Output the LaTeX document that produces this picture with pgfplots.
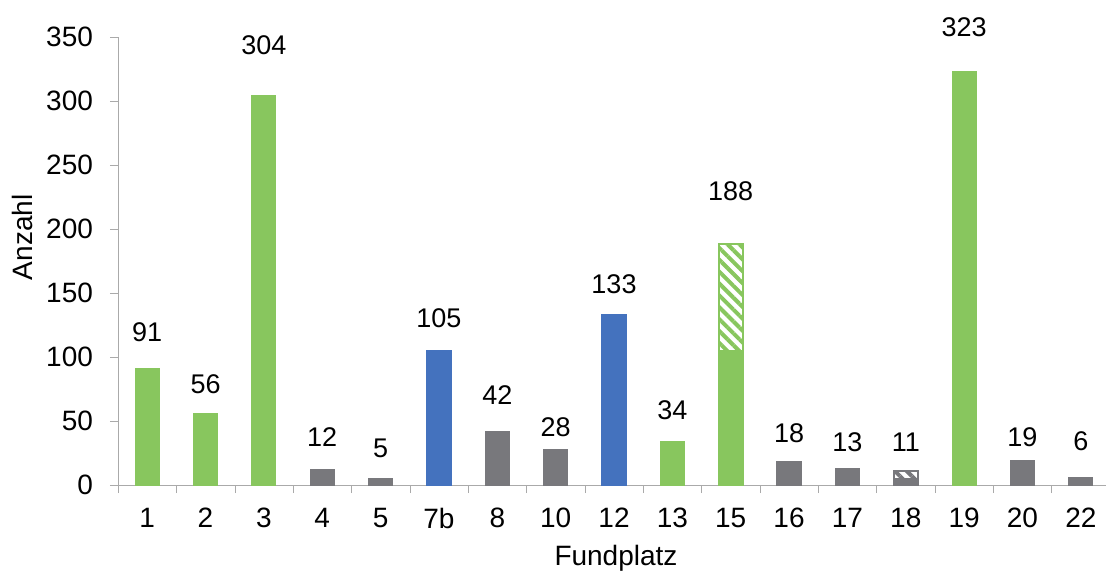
\documentclass[border=0pt]{standalone}
\usepackage{pgfplots}
\pgfplotsset{compat=1.18}
\usepackage{pgfplotstable}
\usetikzlibrary{patterns.meta}
\usepackage{fontspec}
\setmainfont{Liberation Sans}

\definecolor{fgreen}{RGB}{136,198,94}
\definecolor{fblue}{RGB}{68,114,190}
\definecolor{fgray}{RGB}{120,120,124}
\definecolor{axgray}{RGB}{170,170,170}

% Fundplatz index (0..16), count
\pgfplotstableread{
x y
0 91
1 56
2 304
9 34
10 105
14 323
}\greensolid
\pgfplotstableread{
x y
5 105
8 133
}\bluesolid
\pgfplotstableread{
x y
3 12
4 5
6 42
7 28
11 18
12 13
13 5
15 19
16 6
}\graysolid
% totals of the partly hatched bars
\pgfplotstableread{
x y
10 188
}\greenhatch
\pgfplotstableread{
x y
13 11
}\grayhatch
% value labels: position and text
\pgfplotstableread{
x ly lab
0 119.5 91
1 78.9 56
2 343.8 304
3 37.5 12
4 28.9 5
5 130.5 105
6 70.3 42
7 45.3 28
8 157 133
9 58.6 34
10 229.7 188
11 40.6 18
12 33.6 13
13 33.6 11
14 357.8 323
15 37.5 19
16 34.4 6
}\labels

\begin{document}
\begin{tikzpicture}
\begin{axis}[
  scale only axis,
  width=496pt, height=224pt,
  xmin=-0.5, xmax=16.5,
  ymin=0, ymax=350,
  clip=false,
  axis x line*=bottom,
  axis y line*=left,
  axis line style={axgray, -},
  tick style={axgray},
  tick align=outside,
  xtick={0,...,16},
  xticklabels={1,2,3,4,5,7b,8,10,12,13,15,16,17,18,19,20,22},
  major x tick style={draw=none},
  minor xtick={-0.5,0.5,...,16.5},
  minor tick length=4pt,
  major tick length=4pt,
  ytick={0,50,...,350},
  /pgf/number format/assume math mode=true,
  tick label style={font=\fontsize{14}{16}\selectfont, black},
  xticklabel style={yshift=-4pt},
  yticklabel style={xshift=-5pt},
  xlabel={Fundplatz},
  ylabel={Anzahl},
  label style={font=\fontsize{14}{16}\selectfont},
  xlabel style={at={(axis description cs:0.502,-0.163)}, anchor=center},
  ylabel style={at={(axis description cs:-0.0958,0.553)}, anchor=center, rotate=0},
  bar width=12pt,
]
% hatched parts, drawn full height first
\addplot[ybar, draw=fgreen, line width=1pt,
  pattern={Lines[angle=-45,distance=4.2pt,line width=2pt]}, pattern color=fgreen]
  table[x=x,y=y] {\greenhatch};
\addplot[ybar, draw=fgray, line width=1pt,
  pattern={Lines[angle=-45,distance=4.2pt,line width=2pt]}, pattern color=fgray]
  table[x=x,y=y] {\grayhatch};
% solid bars
\addplot[ybar, fill=fgreen, draw=fgreen, line width=0.6pt] table[x=x,y=y] {\greensolid};
\addplot[ybar, fill=fblue, draw=fblue, line width=0.6pt] table[x=x,y=y] {\bluesolid};
\addplot[ybar, fill=fgray, draw=fgray, line width=0.6pt] table[x=x,y=y] {\graysolid};
% value labels
\addplot[only marks, mark=none, point meta=explicit symbolic,
  nodes near coords,
  nodes near coords style={anchor=center, font=\fontsize{13.5}{15}\selectfont, black}]
  table[x=x, y=ly, meta=lab] {\labels};
\end{axis}
\pgfresetboundingbox
\path[use as bounding box] ([shift={(-59pt,-44.5pt)}]current axis.south west)
  rectangle ([shift={(-2pt,18.5pt)}]current axis.north east);
\end{tikzpicture}
\end{document}
